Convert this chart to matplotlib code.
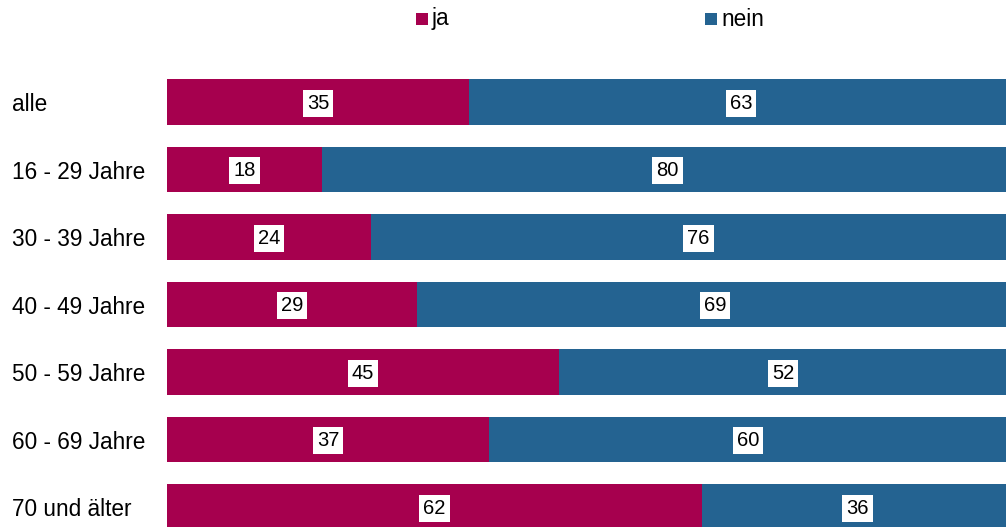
import matplotlib
matplotlib.use("Agg")
import matplotlib.pyplot as plt
import matplotlib.transforms as mtransforms
from matplotlib.patches import Rectangle

categories = ["alle", "16 - 29 Jahre", "30 - 39 Jahre", "40 - 49 Jahre",
              "50 - 59 Jahre", "60 - 69 Jahre", "70 und älter"]
ja = [35, 18, 23.6, 29, 45.4, 37.3, 62]
nein = [63, 80, 76, 69, 52, 60, 36]
series_names = ["ja", "nein"]
colors = ["#A6004E", "#246391"]

plt.rcParams['font.family'] = ['Liberation Sans', 'DejaVu Sans']

W, H = 1006, 527
fig = plt.figure(figsize=(W / 100, H / 100), dpi=100)
left = 167 / W
ax = fig.add_axes([left, 0, 1 - left, 1])
ax.set_xlim(0, (W - 167) / 8.63)
top_idx = -102 / 67.5
bot_idx = (H - 102) / 67.5
ax.set_ylim(bot_idx, top_idx)
ax.axis("off")

ys = list(range(len(categories)))
ax.barh(ys, ja, height=0.667, color=colors[0], linewidth=0)
ax.barh(ys, nein, left=ja, height=0.667, color=colors[1], linewidth=0)

box = dict(boxstyle="square,pad=0.2", facecolor="white", edgecolor="none")
for y, a, n in zip(ys, ja, nein):
    ax.text(a / 2, y + 0.02, f"{round(a)}", ha="center", va="center",
            fontsize=14.5, color="black", bbox=box)
    ax.text(a + n / 2, y + 0.02, f"{round(n)}", ha="center", va="center",
            fontsize=14.5, color="black", bbox=box)

trans = mtransforms.blended_transform_factory(fig.transFigure, ax.transData)
for y, c in zip(ys, categories):
    ax.text(12 / W, y + 0.04, c, transform=trans, ha="left", va="center",
            fontsize=16.3, color="black")

# legend
leg_items = [(416, series_names[0], colors[0]), (705, series_names[1], colors[1])]
for x, name, col in leg_items:
    fig.patches.append(Rectangle((x / W, 1 - 25 / H), 12 / W, 12 / H,
                                 transform=fig.transFigure, facecolor=col,
                                 edgecolor="none"))
    fig.text((x + 16) / W, 1 - 19 / H, name, ha="left", va="center",
             fontsize=16.3, color="black")

fig.savefig("out.png", dpi=100)
